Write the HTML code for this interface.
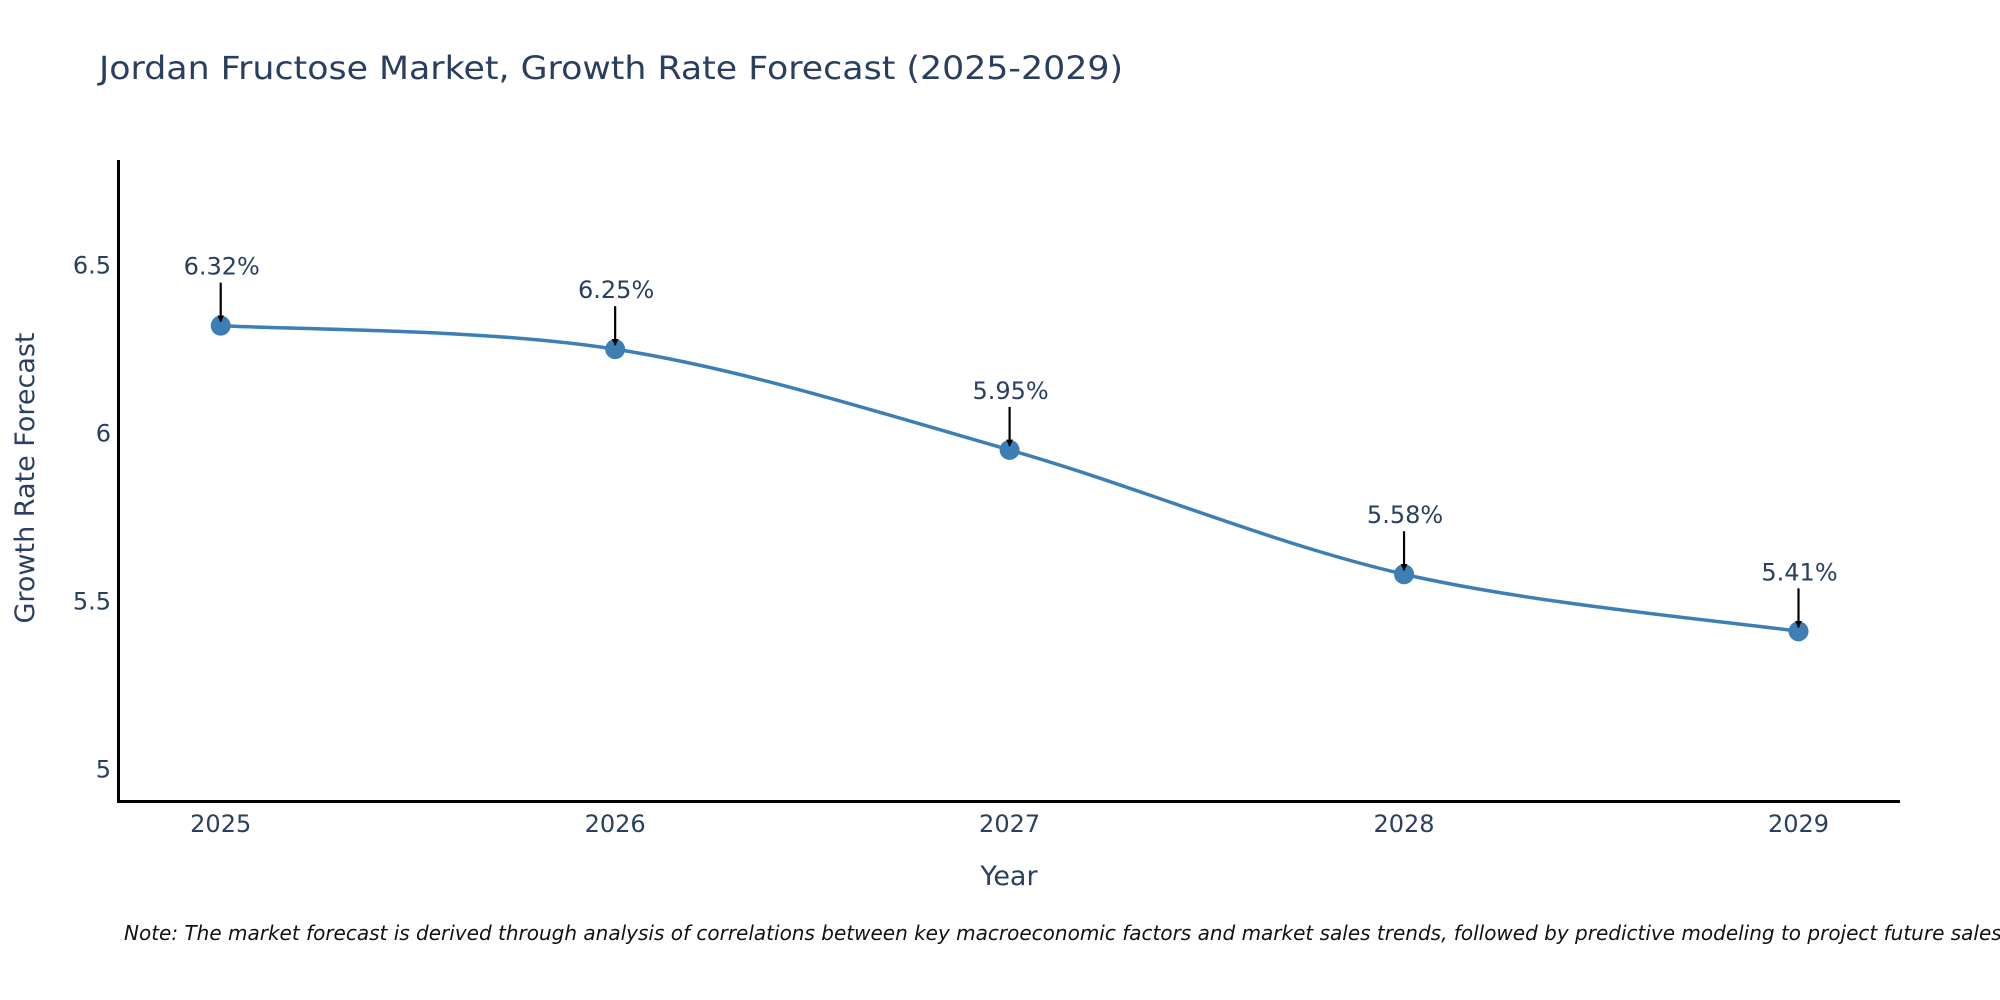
<!DOCTYPE html>
<html><head><meta charset="utf-8"><style>
html,body{margin:0;padding:0;background:#fff;}
svg{display:block;font-family:"DejaVu Sans","Liberation Sans",sans-serif;}
</style></head><body>
<svg id="chart" width="2000" height="1000" viewBox="0 0 2000 1000" xmlns="http://www.w3.org/2000/svg">
<defs><marker id="ah" viewBox="0 0 10 10" refX="9" refY="5" markerWidth="7" markerHeight="7" markerUnits="userSpaceOnUse" orient="auto"><path d="M0,0 L10,5 L0,10 z" fill="#000"/></marker></defs>
<text x="99" y="79" font-size="32" fill="#2a3f5f" textLength="1024" lengthAdjust="spacingAndGlyphs">Jordan Fructose Market, Growth Rate Forecast (2025-2029)</text>
<g id="yticks"></g>
<g id="xticks"></g>
<line x1="118.5" y1="160" x2="118.5" y2="802" stroke="#000" stroke-width="3"/>
<line x1="117" y1="801.5" x2="1900" y2="801.5" stroke="#000" stroke-width="3"/>
<g id="series"></g>
<g id="annots"></g>
<text transform="translate(34,478) rotate(-90)" text-anchor="middle" font-size="27" fill="#2a3f5f">Growth Rate Forecast</text>
<text x="1009" y="885" text-anchor="middle" font-size="27" fill="#2a3f5f">Year</text>
<text x="124" y="940" font-size="20" font-style="italic" fill="#111">Note: The market forecast is derived through analysis of correlations between key macroeconomic factors and market sales trends, followed by predictive modeling to project future sales.</text>
</svg>
<script>
const years = [2025, 2026, 2027, 2028, 2029];
const rates = [6.32, 6.25, 5.95, 5.58, 5.41];
const labels = ["6.32%", "6.25%", "5.95%", "5.58%", "5.41%"];
const yTicks = [5, 5.5, 6, 6.5];
const NS = "http://www.w3.org/2000/svg";
const xMin = 2025, xMax = 2029, px0 = 220.7, px1 = 1798.5;
const yMin = 4.905, yMax = 6.811, py0 = 801, py1 = 160.7;
function xs(v){return px0 + (v - xMin) / (xMax - xMin) * (px1 - px0);}
function ys(v){return py0 + (v - yMin) / (yMax - yMin) * (py1 - py0);}
function mk(tag, attrs, parent){const e=document.createElementNS(NS,tag);for(const k in attrs)e.setAttribute(k,attrs[k]);parent.appendChild(e);return e;}
const yt=document.getElementById('yticks');
yTicks.forEach(t=>{
  const e=mk('text',{x:111,y:ys(t)+8.5,'text-anchor':'end','font-size':24,fill:'#2a3f5f'},yt);
  
  
  e.textContent=String(t);
});
const xt=document.getElementById('xticks');
years.forEach(y=>{
  const e=mk('text',{x:xs(y),y:832,'text-anchor':'middle','font-size':24,fill:'#2a3f5f'},xt);
  
  
  e.textContent=String(y);
});
const pts=years.map((y,i)=>[xs(y),ys(rates[i])]);
let d='M'+pts[0][0]+','+pts[0][1];
for(let i=0;i<pts.length-1;i++){
  const p0=pts[Math.max(0,i-1)],p1=pts[i],p2=pts[i+1],p3=pts[Math.min(pts.length-1,i+2)];
  const t=1/6;
  const c1=[p1[0]+(p2[0]-p0[0])*t,p1[1]+(p2[1]-p0[1])*t];
  const c2=[p2[0]-(p3[0]-p1[0])*t,p2[1]-(p3[1]-p1[1])*t];
  d+=' C'+c1+' '+c2+' '+p2;
}
const sg=document.getElementById('series');
const line=mk('path',{d:d,fill:'none',stroke:'#3d7fb4','stroke-width':3.5},sg);


const ag=document.getElementById('annots');
pts.forEach((p,i)=>{
  const c=mk('circle',{cx:p[0],cy:p[1],r:10,fill:'#3d7fb4'},sg);
  
  
  const a=mk('line',{x1:p[0],y1:p[1]-43,x2:p[0],y2:p[1]-4,stroke:'#000','stroke-width':2.2,'marker-end':'url(#ah)'},ag);
  
  
  const t=mk('text',{x:p[0]+1,y:p[1]-51,'text-anchor':'middle','font-size':24,fill:'#2a3f5f'},ag);
  
  
  t.textContent=labels[i];
});
</script>
</body></html>
